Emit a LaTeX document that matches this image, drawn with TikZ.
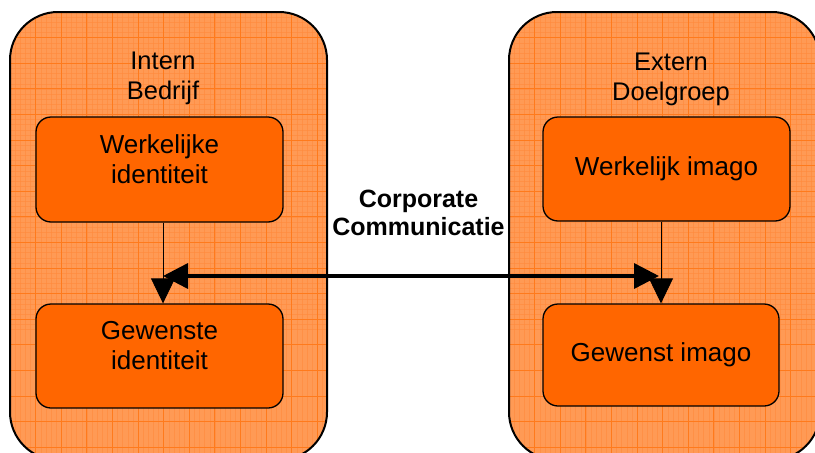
\documentclass[tikz,border=0pt]{standalone}
\usepackage{fontspec}
\setmainfont{Liberation Sans}
\usepackage{tikz}
\usetikzlibrary{positioning}
\usetikzlibrary{arrows.meta}

\definecolor{LichtOranje}{HTML}{FF9A55}
\definecolor{RasterOranje}{HTML}{FF7A1C}
\definecolor{FijnOranje}{HTML}{FF8A3C}
\definecolor{VakOranje}{HTML}{FF6600}

\tikzset{
  vak/.style={draw=black, line width=1.3pt, fill=VakOranje, rounded corners=15pt,
    align=center, font=\fontsize{26}{30}\selectfont},
  tweeregels/.style={text depth=21pt},
  kop/.style={align=center, font=\fontsize{25.5}{30}\selectfont},
  pijl/.style={-{Triangle[length=25pt,width=24pt]}, line width=0.8pt},
  dubbelpijl/.style={{Triangle[length=25pt,width=25pt]}-{Triangle[length=25pt,width=25pt]}, line width=3.5pt}
}

\begin{document}
\begin{tikzpicture}[x=1pt,y=-1pt]
\useasboundingbox (0,0) rectangle (815,453);
\clip (0,0) rectangle (815,453);
\fill[white] (0,0) rectangle (815,453);

% grote blokken met raster
\foreach \xa/\xb in {10/327, 509/820} {
  \begin{scope}
    \clip[rounded corners=48pt] (\xa,12) rectangle (\xb,460);
    \fill[LichtOranje] (\xa,12) rectangle (\xb,460);
    \foreach \k in {0,...,62} {
      \draw[FijnOranje, line width=0.3pt, opacity=0.6] ({\xa+5.12*\k},12) -- ++(0,450);
      \draw[FijnOranje, line width=0.3pt, opacity=0.6] (\xa,{12+5.12*\k}) -- ++(320,0);
    }
    \foreach \k in {0,...,18} {
      \draw[RasterOranje, line width=0.9pt] ({\xa+25.6*\k},12) -- ++(0,450);
      \draw[RasterOranje, line width=0.9pt] (\xa,{12+25.6*\k}) -- ++(320,0);
    }
  \end{scope}
  \draw[line width=2pt, rounded corners=48pt] (\xa,12) rectangle (\xb,460);
}

\node[kop] (intern) at (163,78.5) {Intern\\Bedrijf};
\node[kop] (extern) at (671,79) {Extern\\Doelgroep};

\node[vak, tweeregels, minimum width=247pt, minimum height=105pt] (wi) at (159.5,169.5)
  {Werkelijke\\identiteit};
\node[vak, tweeregels, minimum width=247pt, minimum height=104pt] (gi) at (159.5,356)
  {Gewenste\\identiteit};
\node[vak, minimum width=247pt, minimum height=104pt] (wim) at (666.5,169)
  {Werkelijk imago};
\node[vak, minimum width=236pt, minimum height=102pt] (gim) at (661,355)
  {Gewenst imago};

\node[kop, font=\fontsize{25}{28}\selectfont\bfseries] (cc) at (418.5,212.5)
  {Corporate\\Communicatie};

% pijlen
\draw[pijl] (wi.south -| intern) -- (gi.north -| intern);
\draw[pijl] (wim.south -| gim.north) -- (gim.north);

\coordinate (links) at (163,276);
\coordinate (rechts) at (659,276);
\draw[dubbelpijl] (links) -- (rechts);
\end{tikzpicture}
\end{document}
